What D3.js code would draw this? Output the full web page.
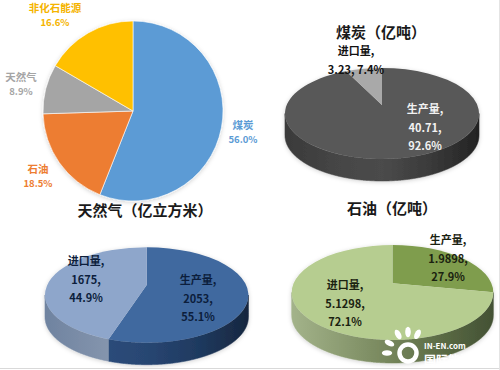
<!DOCTYPE html>
<html>
<head>
<meta charset="utf-8">
<script src="https://cdn.jsdelivr.net/npm/d3@7"></script>
<style>
  html, body { margin: 0; padding: 0; background: #fff; }
  svg { display: block; }
  text { font-family: "Noto Sans CJK SC", "Noto Sans", sans-serif; }
</style>
</head>
<body>
<div id="chart"></div>
<script>
// values
const shareNames = ["煤炭", "石油", "天然气", "非化石能源"];
const shareValues = [56.0, 18.5, 8.9, 16.6];
const shareColors = ["#5b9bd5", "#ed7d31", "#a5a5a5", "#ffc000"];

const coalNames = ["生产量", "进口量"];
const coalValues = [40.71, 3.23];
const coalPercents = ["92.6%", "7.4%"];

const gasNames = ["生产量", "进口量"];
const gasValues = [2053, 1675];
const gasPercents = ["55.1%", "44.9%"];

const oilNames = ["生产量", "进口量"];
const oilValues = [1.9898, 5.1298];
const oilPercents = ["27.9%", "72.1%"];

const svg = d3.select("#chart").append("svg").attr("width", 500).attr("height", 370);
const defs = svg.append("defs");

const shadow = defs.append("filter").attr("id", "soft")
  .attr("x", "-10%").attr("y", "-10%").attr("width", "120%").attr("height", "120%");
shadow.append("feDropShadow").attr("dx", 0).attr("dy", 1).attr("stdDeviation", 2)
  .attr("flood-color", "#000").attr("flood-opacity", 0.18);

// plain pie, top left
const flatPie = d3.pie().sort(null)(shareValues);
const flatArc = d3.arc().innerRadius(0).outerRadius(90);
const flatG = svg.append("g").attr("transform", "translate(133,111)").attr("filter", "url(#soft)");
flatG.selectAll("path").data(flatPie).enter().append("path")
  .attr("d", flatArc)
  .attr("fill", function (d, i) { return shareColors[i]; })
  .attr("stroke", "#fff")
  .attr("stroke-width", 0.6);

const flatLabelPos = [[243, 125], [38, 169], [21, 77], [55, 8]];
flatLabelPos.forEach(function (p, i) {
  const t = svg.append("text").attr("text-anchor", "middle").attr("font-size", 10.5)
    .attr("font-weight", 700).attr("fill", shareColors[i] == "#ffc000" ? "#f5b400" : shareColors[i]);
  t.append("tspan").attr("x", p[0]).attr("y", p[1] + 4).text(shareNames[i]);
  t.append("tspan").attr("x", p[0]).attr("y", p[1] + 18).attr("font-size", 9.5).text(shareValues[i].toFixed(1) + "%");
});

// tilted pie: ellipse top, apex sits a bit above the ellipse centre
function tilted(cfg) {
  const g = svg.append("g");
  const slices = d3.pie().sort(null)(cfg.values);
  const k = cfg.ry / cfg.rx;

  // ray from the apex to the rim
  function rim(a) {
    const dx = Math.sin(a), dy = -Math.cos(a) * k;
    const oy = cfg.apexY - cfg.cy;
    const A = dx * dx / (cfg.rx * cfg.rx) + dy * dy / (cfg.ry * cfg.ry);
    const B = 2 * oy * dy / (cfg.ry * cfg.ry);
    const C = oy * oy / (cfg.ry * cfg.ry) - 1;
    const t = (-B + Math.sqrt(B * B - 4 * A * C)) / (2 * A);
    return { x: cfg.cx + dx * t, y: cfg.apexY + dy * t };
  }

  const grads = slices.map(function (d, i) {
    const id = cfg.id + "side" + i;
    const lg = defs.append("linearGradient").attr("id", id)
      .attr("gradientUnits", "userSpaceOnUse")
      .attr("x1", cfg.cx - cfg.rx).attr("x2", cfg.cx + cfg.rx).attr("y1", 0).attr("y2", 0);
    cfg.sideStops[i].forEach(function (c, j, all) {
      lg.append("stop").attr("offset", j / (all.length - 1)).attr("stop-color", c);
    });
    return "url(#" + id + ")";
  });

  // side wall: sample the front half of the rim
  slices.forEach(function (d, i) {
    const pts = [];
    const N = 720;
    for (let n = 0; n <= N; n++) {
      const th = Math.PI * n / N;
      const x = cfg.cx + cfg.rx * Math.cos(th), y = cfg.cy + cfg.ry * Math.sin(th);
      // which slice owns this rim point, seen from the apex
      let a = Math.atan2(x - cfg.cx, -(y - cfg.apexY) / k);
      if (a < 0) a += 2 * Math.PI;
      if (a >= d.startAngle && a <= d.endAngle) pts.push([x, y]);
    }
    if (!pts.length) return;
    const line = d3.line();
    const lower = pts.map(function (p) { return [p[0], p[1] + cfg.depth]; });
    g.append("path")
      .attr("d", line(pts.concat(lower.reverse())) + "Z")
      .attr("fill", grads[i])
      .attr("stroke", grads[i])
      .attr("stroke-width", 0.6);
  });

  // top faces
  slices.forEach(function (d, i) {
    const p0 = rim(d.startAngle), p1 = rim(d.endAngle);
    const large = d.endAngle - d.startAngle > Math.PI ? 1 : 0;
    const path = "M" + cfg.cx + "," + cfg.apexY + "L" + p0.x + "," + p0.y +
      "A" + cfg.rx + "," + cfg.ry + " 0 " + large + " 1 " + p1.x + "," + p1.y + "Z";
    g.append("path").attr("d", path).attr("fill", cfg.topColors[i]);
  });
  g.attr("filter", "url(#soft)");

  // labels
  cfg.labels.forEach(function (lines, i) {
    const p = cfg.labelPos[i];
    const t = svg.append("text").attr("text-anchor", "middle").attr("font-size", 11)
      .attr("font-weight", 700).attr("fill", cfg.labelColor[i]);
    lines.forEach(function (s, j) {
      t.append("tspan").attr("x", p[0]).attr("y", p[1] + j * 18.5).text(s);
    });
  });

  svg.append("text").attr("x", cfg.titleX).attr("y", cfg.titleY).attr("text-anchor", "middle")
    .attr("font-size", 15).attr("font-weight", 700).attr("fill", "#1a1a1a").text(cfg.title);
}

tilted({
  id: "coal", title: "煤炭（亿吨）", titleX: 381, titleY: 38,
  values: coalValues, cx: 382, cy: 113.5, rx: 97, ry: 45.5, apexY: 105, depth: 22,
  topColors: ["#595959", "#a9a9a9"],
  sideStops: [["#3a3a3a", "#454545", "#4b4b4b", "#3a3a3a", "#232323"], ["#555", "#555"]],
  labels: [[coalNames[0] + ",", coalValues[0] + ",", coalPercents[0]],
           [coalNames[1] + ",", coalValues[1] + ", " + coalPercents[1]]],
  labelPos: [[425, 113], [356, 55]],
  labelColor: ["#f2f2f2", "#111"]
});

tilted({
  id: "gas", title: "天然气（亿立方米）", titleX: 145, titleY: 216,
  values: gasValues, cx: 146.7, cy: 295, rx: 101.7, ry: 47.7, apexY: 285, depth: 22,
  topColors: ["#41699f", "#8ea6cb"],
  sideStops: [["#2c4d7c", "#2c4d7c", "#284672", "#1f3a60", "#17273f"], ["#6f83a0", "#8696ae", "#7a8ea9", "#7a8ea9"]],
  labels: [[gasNames[0] + ",", gasValues[0] + ",", gasPercents[0]],
           [gasNames[1] + ",", gasValues[1] + ",", gasPercents[1]]],
  labelPos: [[198, 284], [86, 265]],
  labelColor: ["#0c1e3c", "#0c1e3c"]
});

tilted({
  id: "oil", title: "石油（亿吨）", titleX: 392, titleY: 214,
  values: oilValues, cx: 392.5, cy: 292.5, rx: 100.8, ry: 47.5, apexY: 283.3, depth: 23,
  topColors: ["#7f9d4d", "#b6cd90"],
  sideStops: [["#435134", "#435134"], ["#a3b38a", "#8c9c72", "#74845a", "#5a6a44", "#435134"]],
  labels: [[oilNames[0] + ",", oilValues[0] + ",", oilPercents[0]],
           [oilNames[1] + ",", oilValues[1] + ",", oilPercents[1]]],
  labelPos: [[448, 244], [345, 289]],
  labelColor: ["#1a2210", "#1a2210"]
});

// frame lines at the image edge
svg.append("line").attr("x1", 0).attr("x2", 500).attr("y1", 368.5).attr("y2", 368.5).attr("stroke", "#d9d9d9");
svg.append("line").attr("x1", 499.5).attr("x2", 499.5).attr("y1", 0).attr("y2", 370).attr("stroke", "#e4e4e4");

// watermark
const wm = svg.append("g");
const petals = [-90, -62, -28, 0, 27];
wm.selectAll("ellipse").data(petals).enter().append("ellipse")
  .attr("rx", 2.8).attr("ry", 5.2)
  .attr("fill", "#fff")
  .attr("transform", function (d) { return "translate(408,353) rotate(" + d + ") translate(0,-21)"; });
wm.append("circle").attr("cx", 408).attr("cy", 353).attr("r", 8.5)
  .attr("fill", "none").attr("stroke", "#fff").attr("stroke-width", 4.5);
wm.append("text").attr("x", 424).attr("y", 349).attr("font-size", 8).attr("font-weight", 700)
  .attr("fill", "#fff").text("IN-EN.com");
wm.append("text").attr("x", 424).attr("y", 365).attr("font-size", 12).attr("font-weight", 700)
  .attr("fill", "#fff").text("国际能源网");
</script>
</body>
</html>
